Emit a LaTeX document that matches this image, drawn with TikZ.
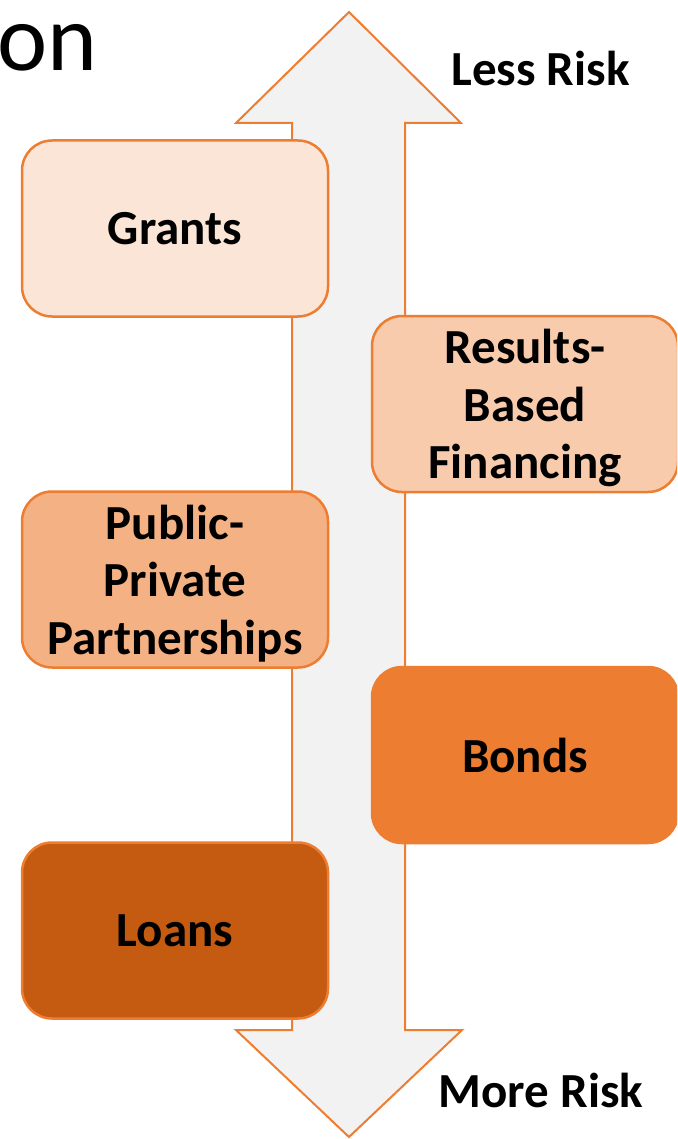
\documentclass[tikz,border=0pt]{standalone}
\usepackage{fontspec}
\setmainfont{Carlito}
\usepackage{tikz}
\definecolor{riskorange}{HTML}{ED7D31}
\definecolor{tintone}{HTML}{FBE5D6}
\definecolor{tinttwo}{HTML}{F8CBAD}
\definecolor{tintthree}{HTML}{F4B183}
\definecolor{tintfive}{HTML}{C55A11}
\definecolor{shaftgray}{HTML}{F2F2F2}
\tikzstyle{fundbox} = [rectangle, rounded corners=30pt, minimum width=306pt, minimum
height=176pt, text depth=0pt, align=center, draw=riskorange, line width=2.5pt,
font=\fontsize{49}{57.5}\selectfont\bfseries]
\tikzstyle{risklabel} = [anchor=base, inner sep=0pt,
font=\fontsize{49}{57.5}\selectfont\bfseries]
\tikzstyle{riskarrow} = [draw=riskorange, fill=shaftgray, line width=2pt,
line join=miter]

\begin{document}
\begin{tikzpicture}[x=1pt, y=-1pt, node distance=175.5pt]

\useasboundingbox (0,0) rectangle (677,1139);
\clip (0,0) rectangle (677,1139);

\node(title)[anchor=base west, inner sep=0pt, font=\fontsize{95}{95}\selectfont]
at (-3,71) {on};

\path[riskarrow] (349,12) -- (461,123) -- (405,123) -- (405,1030) -- (462,1030)
-- (349,1137) -- (236,1030) -- (292,1030) -- (292,123) -- (236,123) -- cycle;

\node(less)[risklabel] at (540.5,86) {Less Risk};
\node(more)[risklabel] at (541,1107) {More Risk};

\node(grants)[fundbox, fill=tintone] at (175,228.5) {Grants};
\node(results)[fundbox, fill=tinttwo, below of=grants, xshift=350pt]{Results-\\Based\\Financing};
\node(ppp)[fundbox, fill=tintthree, below of=results, xshift=-350pt]{Public-\\Private\\Partnerships};
\node(bonds)[fundbox, fill=riskorange, below of=ppp, xshift=350pt]{Bonds};
\node(loans)[fundbox, fill=tintfive, below of=bonds, xshift=-350pt]{Loans};

\end{tikzpicture}
\end{document}
